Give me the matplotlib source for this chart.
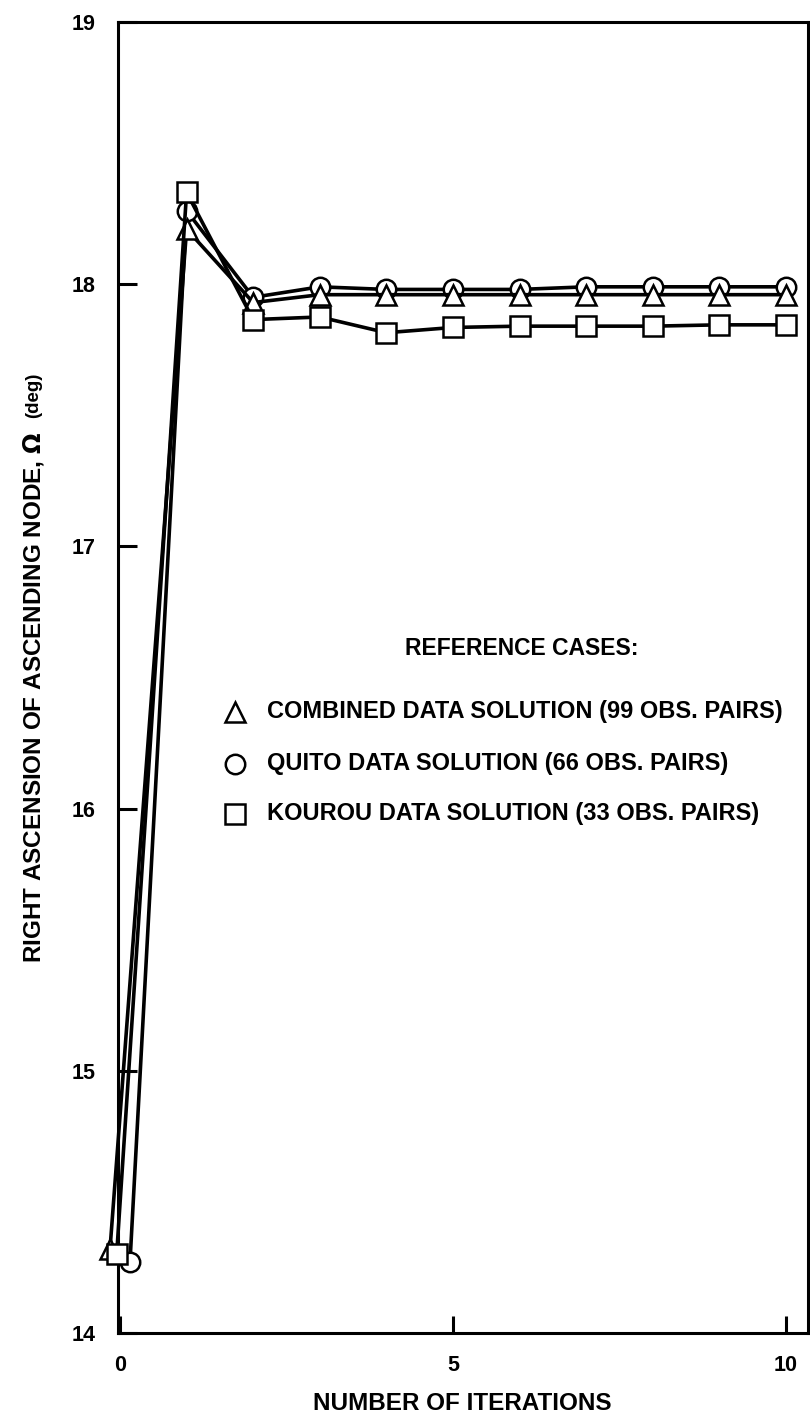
import matplotlib
matplotlib.use('Agg')
import matplotlib.pyplot as plt
from matplotlib.lines import Line2D

# datos
iteraciones = [1, 2, 3, 4, 5, 6, 7, 8, 9, 10]
x0_combinado = -0.15
x0_quito = 0.15
x0_kourou = -0.05

combinado = [14.32, 18.21, 17.93, 17.96, 17.96, 17.96, 17.96, 17.96, 17.96, 17.96, 17.96]
quito = [14.27, 18.28, 17.95, 17.99, 17.98, 17.98, 17.98, 17.99, 17.99, 17.99, 17.99]
kourou = [14.30, 18.35, 17.865, 17.875, 17.815, 17.835, 17.84, 17.84, 17.84, 17.845, 17.845]

etiquetas = ['COMBINED DATA SOLUTION (99 OBS. PAIRS)',
             'QUITO DATA SOLUTION (66 OBS. PAIRS)',
             'KOUROU DATA SOLUTION (33 OBS. PAIRS)']

W, H = 810, 1421
plt.rcParams['font.family'] = ['Liberation Sans', 'DejaVu Sans']
plt.rcParams['font.weight'] = 'bold'

fig = plt.figure(figsize=(W / 100, H / 100), dpi=100)
ax = fig.add_axes([118 / W, 1 - 1333 / H, (808 - 118) / W, (1333 - 22) / H])

estilo = dict(color='black', lw=2.6, markersize=14, markerfacecolor='white',
              markeredgecolor='black', markeredgewidth=1.8, clip_on=False)

ax.plot([x0_quito] + iteraciones, quito, marker='o', zorder=3, **estilo)
ax.plot([x0_combinado] + iteraciones, combinado, marker='^', zorder=4, **estilo)
ax.plot([x0_kourou] + iteraciones, kourou, marker='s', zorder=5, **estilo)

ax.set_xlim(-0.03, 10.33)
ax.set_ylim(14, 19)
ax.set_xticks([0, 5, 10])
ax.set_yticks([14, 15, 16, 17, 18, 19])
ax.tick_params(axis='both', direction='in', width=2.2, labelsize=15.5)
ax.tick_params(axis='y', length=14, pad=16)
ax.tick_params(axis='x', length=12, pad=16)
for s in ax.spines.values():
    s.set_linewidth(2.2)

fig.text(462 / W, 1 - 1404 / H, 'NUMBER OF ITERATIONS', ha='center', va='center',
         fontsize=17.5, family=['Liberation Sans Narrow', 'Liberation Sans'])
fig.text(34 / W, 1 - 963 / H, 'RIGHT ASCENSION OF ASCENDING NODE, $\\Omega$',
         rotation=90, ha='center', va='bottom', fontsize=17.5)
fig.text(34 / W, 1 - 373 / H, '(deg)', rotation=90, ha='center', va='top', fontsize=13.5)

# leyenda
fig.text(522 / W, 1 - 648 / H, 'REFERENCE CASES:', ha='center', va='center', fontsize=16.5)
marcas = ['^', 'o', 's']
ys = [712, 764, 814]
for m, y, t in zip(marcas, ys, etiquetas):
    fig.add_artist(Line2D([235 / W], [1 - y / H], marker=m, markersize=14,
                          markerfacecolor='white', markeredgecolor='black',
                          markeredgewidth=1.8, transform=fig.transFigure))
    fig.text(267 / W, 1 - y / H, t, ha='left', va='center', fontsize=17)

fig.savefig('out.png', dpi=100)
